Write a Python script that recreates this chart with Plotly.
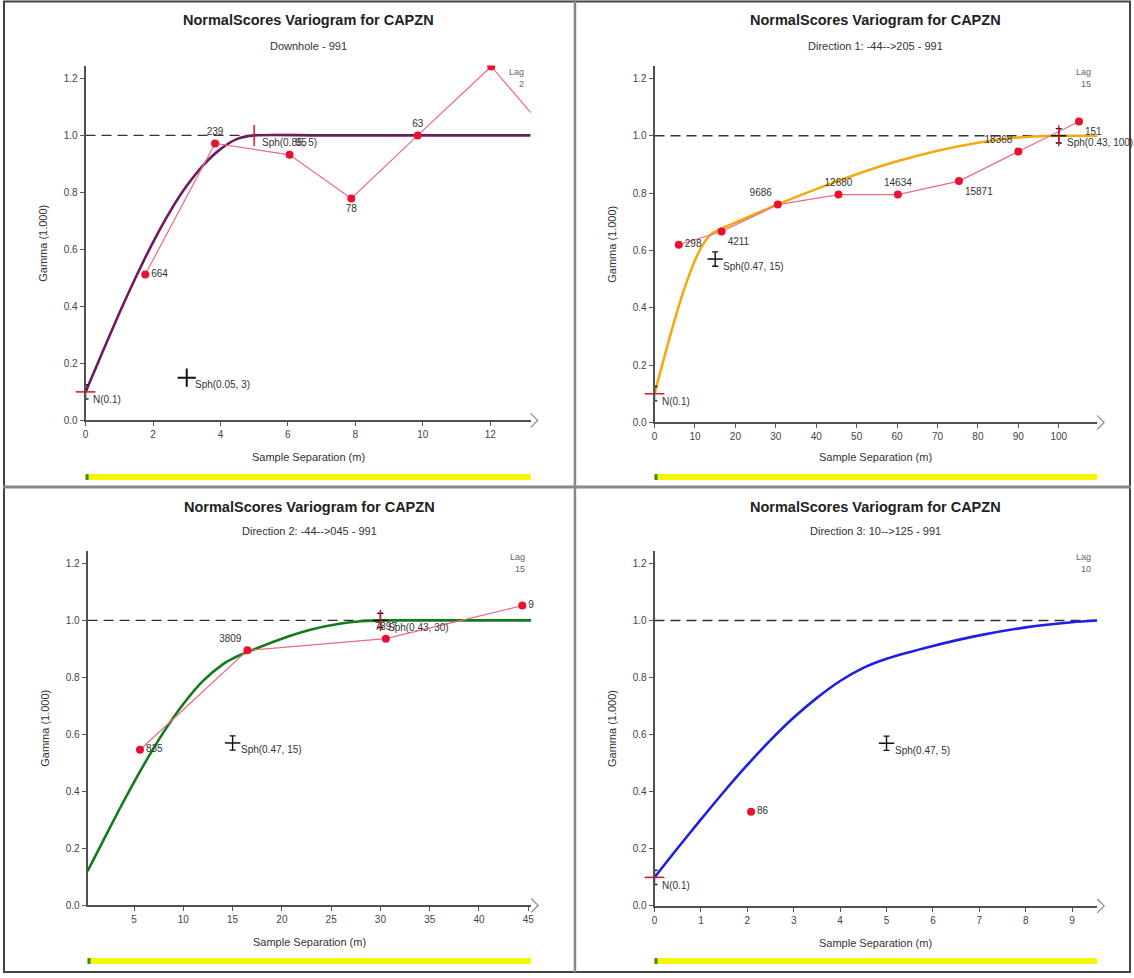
import plotly.graph_objects as go

W, H = 1134, 978

TITLE = "NormalScores Variogram for CAPZN"
subtitles = ["Downhole - 991", "Direction 1: -44-->205 - 991",
             "Direction 2: -44-->045 - 991", "Direction 3: 10-->125 - 991"]
lag_labels = ["2", "15", "15", "10"]
model_colors = ["#6e1b5e", "#f2aa10", "#127a18", "#1e1ee6"]

# ---- experimental variogram points (lag distance, gamma, pair count labels)
p1_lag = [1.77, 3.84, 6.05, 7.88, 9.85, 12.03, 14.0]
p1_gam = [0.512, 0.972, 0.932, 0.779, 1.0, 1.242, 0.97]
p1_lbl = ["664", "239", "95", "78", "63", "", ""]
p1_pos = ["middle right", "top center", "top right", "bottom center", "top center", "top center", "top center"]

p2_lag = [6.0, 16.6, 30.5, 45.5, 60.2, 75.3, 90.0, 105.0]
p2_gam = [0.62, 0.666, 0.76, 0.795, 0.795, 0.842, 0.945, 1.05]
p2_lbl = ["298", "4211", "9686", "12680", "14634", "15871", "18368", "151"]
p2_pos = ["middle right", "bottom right", "top left", "top center", "top center", "bottom right", "top left", "bottom right"]

p3_lag = [5.6, 16.5, 30.55, 44.4]
p3_gam = [0.546, 0.895, 0.936, 1.052]
p3_lbl = ["835", "3809", "7897", "9"]
p3_pos = ["middle right", "top left", "top center", "middle right"]

p4_lag = [2.08]
p4_gam = [0.33]
p4_lbl = ["86"]
p4_pos = ["middle right"]

# ---- fitted model curves
m1_h = [0, 0.5, 1, 1.5, 2, 2.5, 3, 3.5, 4, 4.5, 5, 7, 13.2]
m1_g = [0.1, 0.239, 0.376, 0.505, 0.625, 0.732, 0.823, 0.897, 0.952, 0.988, 1.0, 1.0, 1.0]

m2_h = [0, 2, 4, 6, 8, 10, 12, 14, 15, 20, 30, 40, 50, 60, 70, 80, 90, 100, 109.5]
m2_g = [0.1, 0.206, 0.309, 0.406, 0.492, 0.565, 0.621, 0.657, 0.666, 0.697, 0.758, 0.814,
        0.866, 0.911, 0.948, 0.976, 0.994, 1.0, 1.0]

m3_h = [0.28, 2, 4, 6, 8, 10, 12, 14, 15, 17, 20, 23, 26, 28, 30, 35, 45.3]
m3_g = [0.12, 0.236, 0.369, 0.494, 0.608, 0.707, 0.788, 0.846, 0.866, 0.896, 0.936, 0.968,
        0.989, 0.997, 1.0, 1.0, 1.0]

m4_h = [0, 0.5, 1, 1.5, 2, 2.5, 3, 3.5, 4, 4.5, 5, 6, 7, 8, 9, 9.54]
m4_g = [0.1, 0.203, 0.303, 0.401, 0.494, 0.581, 0.660, 0.729, 0.788, 0.834, 0.866, 0.911,
        0.948, 0.976, 0.994, 1.0]

# ---- model structure markers: (x, y, label, kind)
s1 = [(0, 0.1, "N(0.1)", "nugget"), (3, 0.15, "Sph(0.05, 3)", "cross"), (5, 1.0, "Sph(0.85, 5)", "tick")]
s2 = [(0, 0.1, "N(0.1)", "nugget"), (15, 0.57, "Sph(0.47, 15)", "mid"), (100, 1.0, "Sph(0.43, 100)", "last")]
s3 = [(0, 0.1, "N(0.1)", "nugget"), (15, 0.57, "Sph(0.47, 15)", "mid"), (30, 1.0, "Sph(0.43, 30)", "last")]
s4 = [(0, 0.1, "N(0.1)", "nugget"), (5, 0.57, "Sph(0.47, 5)", "mid")]

x_ranges = [[0, 13.2], [0, 109.5], [0.28, 45.3], [0, 9.54]]
x_ticks = [[0, 2, 4, 6, 8, 10, 12], [0, 10, 20, 30, 40, 50, 60, 70, 80, 90, 100],
           [5, 10, 15, 20, 25, 30, 35, 40, 45], [0, 1, 2, 3, 4, 5, 6, 7, 8, 9]]
y_ticks = [0.0, 0.2, 0.4, 0.6, 0.8, 1.0, 1.2]
sill = 1.0

# pixel boxes of plot areas: (left, right, top, bottom)
boxes = [(83, 530.5, 66, 423), (655, 1100, 66, 425), (85, 531, 554, 911), (655, 1100, 554, 911.5)]
title_y = [(20, 46), (20, 46), (510, 534), (510, 534)]
xtitle_y = [460, 460, 948, 949]
bar_y = [480, 480, 967, 967]
clip_points = [True, False, False, False]

exp_data = [(p1_lag, p1_gam, p1_lbl, p1_pos), (p2_lag, p2_gam, p2_lbl, p2_pos),
            (p3_lag, p3_gam, p3_lbl, p3_pos), (p4_lag, p4_gam, p4_lbl, p4_pos)]
models = [(m1_h, m1_g), (m2_h, m2_g), (m3_h, m3_g), (m4_h, m4_g)]
structs = [s1, s2, s3, s4]

FONT = "Liberation Sans"
fig = go.Figure()
shapes = []
annotations = []
layout = {}


def ann(text, x, y, size, color="#333", bold=False, angle=0, **kw):
    d = dict(text=("<b>" + text + "</b>") if bold else text, xref="paper", yref="paper",
             x=x / W, y=1 - y / H, showarrow=False, xanchor="center", yanchor="middle",
             textangle=angle, font=dict(size=size, color=color, family=FONT))
    d.update(kw)
    return d


for i in range(4):
    n = "" if i == 0 else str(i + 1)
    xa, ya = "x" + n, "y" + n
    L, R, T, B = boxes[i]
    layout["xaxis" + n] = dict(domain=[L / W, R / W], range=x_ranges[i], anchor=ya,
                               tickvals=x_ticks[i], ticks="outside", ticklen=4, tickcolor="#555",
                               showline=True, linecolor="#505050", linewidth=1.8, showgrid=False,
                               zeroline=False, tickfont=dict(size=10, color="#444", family=FONT))
    layout["yaxis" + n] = dict(domain=[1 - B / H, 1 - T / H], range=[0, 1.245], anchor=xa,
                               tickvals=y_ticks, tickformat=".1f", ticks="outside", ticklen=4,
                               tickcolor="#555", showline=True, linecolor="#505050", linewidth=1.8,
                               showgrid=False, zeroline=False,
                               tickfont=dict(size=10, color="#444", family=FONT))
    # sill dashed line
    shapes.append(dict(type="line", xref=xa + " domain", yref=ya, x0=0, x1=1, y0=sill, y1=sill,
                       line=dict(color="#333", width=1.4, dash="10px,6px"), layer="below"))
    # axis arrow chevron
    wpx, hpx = R - L, B - T
    shapes.append(dict(type="path", xref=xa + " domain", yref=ya + " domain",
                       path=f"M 1,{7 / hpx} L {1 + 7 / wpx},0 L 1,{-7 / hpx}",
                       line=dict(color="#888", width=1.2)))
    # yellow bar
    yb = bar_y[i]
    shapes.append(dict(type="rect", xref=xa + " domain", yref="paper", x0=0, x1=1,
                       y0=1 - (yb + 3) / H, y1=1 - (yb - 3) / H,
                       fillcolor="#f6f600", line=dict(width=0)))
    shapes.append(dict(type="rect", xref=xa + " domain", yref="paper", x0=0, x1=3 / wpx,
                       y0=1 - (yb + 3) / H, y1=1 - (yb - 3) / H,
                       fillcolor="#3a8a2a", line=dict(width=0)))

    cx = (L + R) / 2
    annotations.append(ann(TITLE, cx, title_y[i][0], 14.5, "#222", bold=True))
    annotations.append(ann(subtitles[i], cx, title_y[i][1], 11))
    annotations.append(ann("Sample Separation (m)", cx, xtitle_y[i], 11))
    annotations.append(ann("Gamma (1.000)", L - 43, (T + B) / 2, 11, angle=-90))
    annotations.append(ann("Lag<br>" + lag_labels[i], R - 14, T + 12, 9, "#666", align="right"))

    mh, mg = models[i]
    fig.add_trace(go.Scatter(x=mh, y=mg, mode="lines", xaxis=xa, yaxis=ya,
                             line=dict(color=model_colors[i], width=2.6, shape="spline", smoothing=0.8),
                             hoverinfo="skip"))
    ex, ey, el, ep = exp_data[i]
    fig.add_trace(go.Scatter(x=ex, y=ey, mode="lines+markers+text", xaxis=xa, yaxis=ya,
                             text=el, textposition=ep,
                             textfont=dict(size=10, color="#333", family=FONT),
                             line=dict(color="#ec6a82", width=1.2),
                             marker=dict(color="#ea1030", size=8), cliponaxis=clip_points[i]))

    for (sx, sy, slab, kind) in structs[i]:
        if kind == "nugget":
            fig.add_trace(go.Scatter(x=[sx], y=[sy], mode="markers", xaxis=xa, yaxis=ya,
                                     marker=dict(symbol="line-ew", size=14, line=dict(color="#e0102a", width=1.5)),
                                     error_y=dict(type="data", array=[0.025], width=3, thickness=1.4, color="#222"),
                                     cliponaxis=False))
            xs, ys = 5, -8
        elif kind == "cross":
            fig.add_trace(go.Scatter(x=[sx], y=[sy], mode="markers", xaxis=xa, yaxis=ya,
                                     marker=dict(symbol="cross-thin", size=13, line=dict(color="#111", width=2)),
                                     cliponaxis=False))
            xs, ys = 6, -7
        else:
            if kind != "tick":
                fig.add_trace(go.Scatter(x=[sx], y=[sy], mode="markers", xaxis=xa, yaxis=ya,
                                         marker=dict(symbol="line-ew", size=11, line=dict(color="#111", width=1.5)),
                                         error_y=dict(type="data", array=[0.025], width=3, thickness=1.4, color="#111"),
                                         cliponaxis=False))
            if kind in ("last", "tick"):
                fig.add_trace(go.Scatter(x=[sx], y=[sy], mode="markers", xaxis=xa, yaxis=ya,
                                         marker=dict(symbol="line-ns", size=15, line=dict(color="#e0102a", width=1.5)),
                                         cliponaxis=False))
            xs, ys = 6, -7
        annotations.append(dict(text=slab, x=sx, y=sy, xref=xa, yref=ya, showarrow=False,
                                xanchor="left", yanchor="middle", xshift=xs, yshift=ys,
                                font=dict(size=10, color="#333", family=FONT)))

# panel frames
shapes.append(dict(type="rect", xref="paper", yref="paper", x0=1 / W, x1=1 - 1 / W, y0=0, y1=1 - 1.5 / H,
                   line=dict(color="#444", width=2)))
shapes.append(dict(type="line", xref="paper", yref="paper", x0=575 / W, x1=575 / W, y0=0, y1=1,
                   line=dict(color="#888", width=2.5)))
shapes.append(dict(type="line", xref="paper", yref="paper", x0=0, x1=1, y0=1 - 490 / H, y1=1 - 490 / H,
                   line=dict(color="#888", width=3)))

fig.update_layout(width=W, height=H, margin=dict(l=0, r=0, t=0, b=0), showlegend=False,
                  paper_bgcolor="white", plot_bgcolor="white", shapes=shapes,
                  annotations=annotations, **layout)

fig.write_html("out.html", config={"displayModeBar": False},
               post_script="document.body.style.margin='0';document.body.style.overflow='hidden';")
